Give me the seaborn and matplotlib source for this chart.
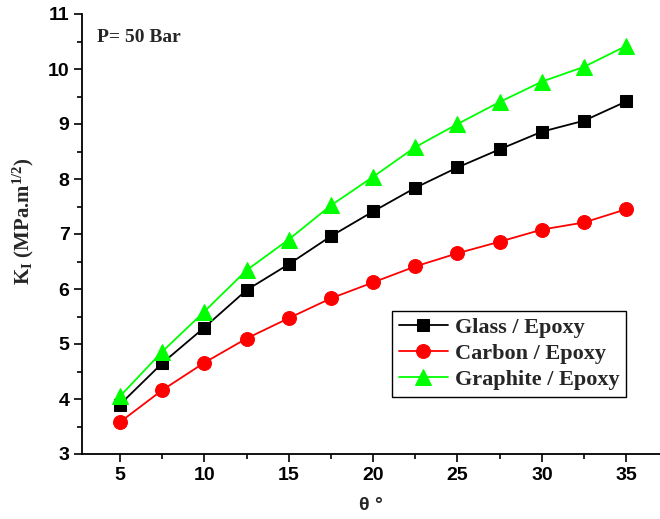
import matplotlib
matplotlib.use("Agg")
import matplotlib.pyplot as plt
from matplotlib.ticker import MultipleLocator
import seaborn as sns
import pandas as pd

theta = [5, 7.5, 10, 12.5, 15, 17.5, 20, 22.5, 25, 27.5, 30, 32.5, 35]
glass = [3.90, 4.65, 5.30, 5.98, 6.45, 6.96, 7.41, 7.84, 8.21, 8.54, 8.86, 9.06, 9.41]
carbon = [3.58, 4.16, 4.66, 5.10, 5.47, 5.83, 6.12, 6.41, 6.65, 6.86, 7.08, 7.21, 7.45]
graphite = [4.05, 4.86, 5.59, 6.34, 6.90, 7.52, 8.04, 8.58, 9.00, 9.40, 9.77, 10.04, 10.42]
series_names = ["Glass / Epoxy", "Carbon / Epoxy", "Graphite / Epoxy"]

sns.set_style("ticks")
plt.rcParams["mathtext.fontset"] = "custom"
plt.rcParams["mathtext.rm"] = "Liberation Serif:bold"
plt.rcParams["mathtext.it"] = "Liberation Serif:bold"
plt.rcParams["mathtext.bf"] = "Liberation Serif:bold"

df = pd.DataFrame({
    "theta": theta * 3,
    "K": glass + carbon + graphite,
    "Material": [series_names[0]] * len(theta) + [series_names[1]] * len(theta) + [series_names[2]] * len(theta),
})

fig = plt.figure(figsize=(6.6, 5.19), dpi=100)
ax = fig.add_axes([82 / 660, 1 - 454 / 519, 1 - 82 / 660, 440 / 519])

colors = ["#000000", "#FF0000", "#00FF00"]
markers = ["s", "o", "^"]
sizes = [9, 10, 11]
for name, c, m, s in zip(series_names, colors, markers, sizes):
    sub = df[df["Material"] == name]
    sns.lineplot(data=sub, x="theta", y="K", ax=ax, color=c, marker=m,
                 markersize=s, markeredgecolor=c, markerfacecolor=c,
                 linewidth=1.3, label=name, clip_on=False)

ax.set_xlim(2.75, 37)
ax.set_ylim(3, 11)
ax.xaxis.set_major_locator(MultipleLocator(5))
ax.xaxis.set_minor_locator(MultipleLocator(2.5))
ax.yaxis.set_major_locator(MultipleLocator(1))
ax.yaxis.set_minor_locator(MultipleLocator(0.5))
ax.tick_params(which="major", direction="out", length=6, width=1.2, color="black", pad=3)
ax.tick_params(which="minor", direction="out", length=3.5, width=1.2, color="black")
for lab in ax.get_xticklabels() + ax.get_yticklabels():
    lab.set_fontfamily("Liberation Sans")
    lab.set_fontweight("bold")
    lab.set_fontsize(14)
    lab.set_color("black")

for side in ["top", "right"]:
    ax.spines[side].set_visible(False)
for side in ["left", "bottom"]:
    ax.spines[side].set_linewidth(1.3)
    ax.spines[side].set_color("black")

ax.set_xlabel("θ °", fontfamily="Liberation Sans", fontweight="bold", fontsize=14, labelpad=10)
ax.set_ylabel("K$_\\mathrm{I}$ (MPa.m$^{1/2}$)", fontfamily="Liberation Serif",
              fontweight="bold", fontsize=15)
ax.yaxis.set_label_coords(-0.079, 0.53)

ax.text(0.026, 0.947, "P= 50 Bar", transform=ax.transAxes, fontfamily="Liberation Serif",
        fontweight="bold", fontsize=14, va="center", ha="left")

leg = ax.legend(loc="lower right", bbox_to_anchor=(0.941, 0.13), frameon=True, fancybox=False,
                edgecolor="black", framealpha=1, handlelength=2.2, handletextpad=0.3,
                borderpad=0.3, borderaxespad=0, labelspacing=0.25,
                prop={"family": "Liberation Serif", "weight": "bold", "size": 16})
leg.get_frame().set_linewidth(1.0)

fig.savefig("out.png", dpi=100)
